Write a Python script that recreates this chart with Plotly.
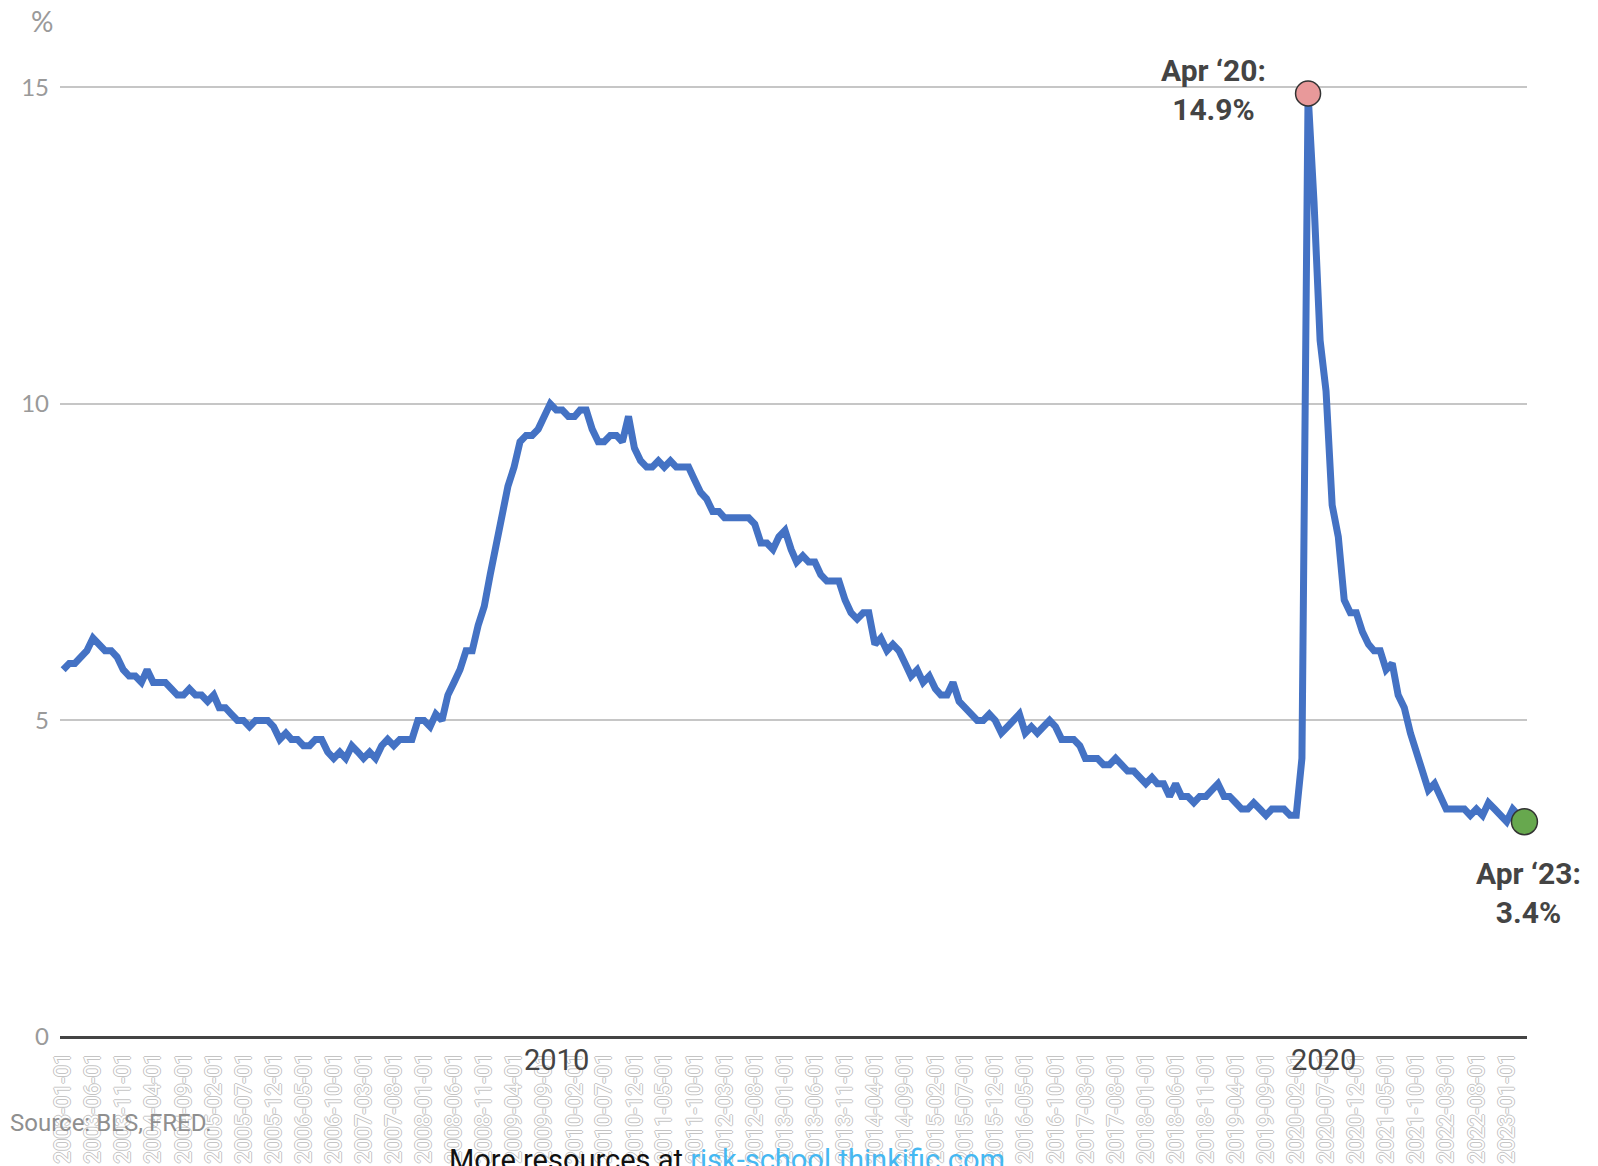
import pandas as pd
import plotly.graph_objects as go

# US civilian unemployment rate, monthly, Jan 2003 - Apr 2023 (%)
start_month = "2003-01-01"
rate_2003 = [5.8, 5.9, 5.9, 6.0, 6.1, 6.3, 6.2, 6.1, 6.1, 6.0, 5.8, 5.7]
rate_2004 = [5.7, 5.6, 5.8, 5.6, 5.6, 5.6, 5.5, 5.4, 5.4, 5.5, 5.4, 5.4]
rate_2005 = [5.3, 5.4, 5.2, 5.2, 5.1, 5.0, 5.0, 4.9, 5.0, 5.0, 5.0, 4.9]
rate_2006 = [4.7, 4.8, 4.7, 4.7, 4.6, 4.6, 4.7, 4.7, 4.5, 4.4, 4.5, 4.4]
rate_2007 = [4.6, 4.5, 4.4, 4.5, 4.4, 4.6, 4.7, 4.6, 4.7, 4.7, 4.7, 5.0]
rate_2008 = [5.0, 4.9, 5.1, 5.0, 5.4, 5.6, 5.8, 6.1, 6.1, 6.5, 6.8, 7.3]
rate_2009 = [7.8, 8.3, 8.7, 9.0, 9.4, 9.5, 9.5, 9.6, 9.8, 10.0, 9.9, 9.9]
rate_2010 = [9.8, 9.8, 9.9, 9.9, 9.6, 9.4, 9.4, 9.5, 9.5, 9.4, 9.8, 9.3]
rate_2011 = [9.1, 9.0, 9.0, 9.1, 9.0, 9.1, 9.0, 9.0, 9.0, 8.8, 8.6, 8.5]
rate_2012 = [8.3, 8.3, 8.2, 8.2, 8.2, 8.2, 8.2, 8.1, 7.8, 7.8, 7.7, 7.9]
rate_2013 = [8.0, 7.7, 7.5, 7.6, 7.5, 7.5, 7.3, 7.2, 7.2, 7.2, 6.9, 6.7]
rate_2014 = [6.6, 6.7, 6.7, 6.2, 6.3, 6.1, 6.2, 6.1, 5.9, 5.7, 5.8, 5.6]
rate_2015 = [5.7, 5.5, 5.4, 5.4, 5.6, 5.3, 5.2, 5.1, 5.0, 5.0, 5.1, 5.0]
rate_2016 = [4.8, 4.9, 5.0, 5.1, 4.8, 4.9, 4.8, 4.9, 5.0, 4.9, 4.7, 4.7]
rate_2017 = [4.7, 4.6, 4.4, 4.4, 4.4, 4.3, 4.3, 4.4, 4.3, 4.2, 4.2, 4.1]
rate_2018 = [4.0, 4.1, 4.0, 4.0, 3.8, 4.0, 3.8, 3.8, 3.7, 3.8, 3.8, 3.9]
rate_2019 = [4.0, 3.8, 3.8, 3.7, 3.6, 3.6, 3.7, 3.6, 3.5, 3.6, 3.6, 3.6]
rate_2020 = [3.5, 3.5, 4.4, 14.9, 13.2, 11.0, 10.2, 8.4, 7.9, 6.9, 6.7, 6.7]
rate_2021 = [6.4, 6.2, 6.1, 6.1, 5.8, 5.9, 5.4, 5.2, 4.8, 4.5, 4.2, 3.9]
rate_2022 = [4.0, 3.8, 3.6, 3.6, 3.6, 3.6, 3.5, 3.6, 3.5, 3.7, 3.6, 3.5]
rate_2023 = [3.4, 3.6, 3.5, 3.4]

# highlighted observations
peak_month, peak_label = "2020-04-01", "Apr ‘20:<br>14.9%"
last_label = "Apr ‘23:<br>3.4%"

# tick labels every five months, and the decade markers under the axis
tick_step_months = 5
decade_labels = ["2010", "2020"]
decade_positions = ["2009-11-01", "2020-06-20"]

rates = (rate_2003 + rate_2004 + rate_2005 + rate_2006 + rate_2007 + rate_2008
         + rate_2009 + rate_2010 + rate_2011 + rate_2012 + rate_2013 + rate_2014
         + rate_2015 + rate_2016 + rate_2017 + rate_2018 + rate_2019 + rate_2020
         + rate_2021 + rate_2022 + rate_2023)
months = pd.date_range(start_month, periods=len(rates), freq="MS")
series = pd.Series(rates, index=months)

tick_dates = months[::tick_step_months]
tick_text = [d.strftime("%Y-%m-%d") for d in tick_dates]

peak_value = series[pd.Timestamp(peak_month)]
last_month, last_value = months[-1], series.iloc[-1]

LINE = "#4472C4"
GRID = "#c6c6c6"
TXT = "#444444"
outline = "#c4c4c4"
outline_shadow = (f"1px 0 0 {outline}, -1px 0 0 {outline}, "
                  f"0 1px 0 {outline}, 0 -1px 0 {outline}")

fig = go.Figure()
fig.add_trace(go.Scatter(
    x=months, y=rates, mode="lines",
    line=dict(color=LINE, width=7),
    hoverinfo="x+y", showlegend=False,
))
fig.add_trace(go.Scatter(
    x=[pd.Timestamp(peak_month)], y=[peak_value], mode="markers",
    marker=dict(size=25, color="#e8999a", line=dict(color="#333333", width=1.5)),
    cliponaxis=False, showlegend=False,
))
fig.add_trace(go.Scatter(
    x=[last_month], y=[last_value], mode="markers",
    marker=dict(size=26, color="#67a84e", line=dict(color="#333333", width=1.5)),
    cliponaxis=False, showlegend=False,
))

annotations = [
    dict(x=pd.Timestamp(peak_month), y=peak_value, xref="x", yref="y",
         text=peak_label, showarrow=False, xanchor="center", yanchor="middle",
         xshift=-95, yshift=4,
         font=dict(family="Roboto", size=30, color=TXT, weight="bold")),
    dict(x=last_month, y=last_value, xref="x", yref="y",
         text=last_label, showarrow=False, xanchor="center", yanchor="top",
         xshift=4, yshift=-32,
         font=dict(family="Roboto", size=30, color=TXT, weight="bold")),
    dict(x=0, y=1, xref="paper", yref="paper", text="%", showarrow=False,
         xanchor="center", yanchor="middle", xshift=-18, yshift=63,
         font=dict(family="Lato", size=28, color="#9a9a9a")),
    dict(x=0, y=0, xref="paper", yref="paper", text="Source: BLS, FRED.",
         showarrow=False, xanchor="left", yanchor="middle",
         xshift=-52, yshift=-86,
         font=dict(family="Roboto", size=24, color="#8f8f8f")),
    dict(x=0.455, y=0, xref="paper", yref="paper",
         text='More resources at <span style="color:#45b8f2">risk-school.thinkific.com</span>',
         showarrow=False, xanchor="center", yanchor="top", yshift=-104,
         font=dict(family="Roboto", size=29, color="#111111")),
]
for label, pos in zip(decade_labels, decade_positions):
    annotations.append(dict(
        x=pd.Timestamp(pos), y=0, xref="x", yref="y", text=label,
        showarrow=False, xanchor="center", yanchor="middle", yshift=-23,
        font=dict(family="Roboto", size=29, color=TXT)))

fig.update_layout(
    width=1598, height=1166,
    margin=dict(l=60, r=71, t=84, b=129),
    paper_bgcolor="white", plot_bgcolor="white",
    annotations=annotations,
    xaxis=dict(
        range=[pd.Timestamp("2002-12-16"), pd.Timestamp("2023-04-14")],
        tickmode="array", tickvals=tick_dates, ticktext=tick_text,
        tickangle=-90, showgrid=False, zeroline=False, showline=False,
        ticks="", ticklabelstandoff=10, automargin=False,
        tickfont=dict(family="Roboto", size=22, color="white", shadow=outline_shadow),
    ),
    yaxis=dict(
        range=[0, 15.05], tickvals=[0, 5, 10, 15],
        showgrid=True, gridcolor=GRID, gridwidth=2,
        zeroline=True, zerolinecolor="#444444", zerolinewidth=3,
        showline=False, ticks="", ticklabelstandoff=10, automargin=False,
        tickfont=dict(family="Lato", size=24, color="#9a9a9a"),
    ),
)

fig.write_html("out.html")
